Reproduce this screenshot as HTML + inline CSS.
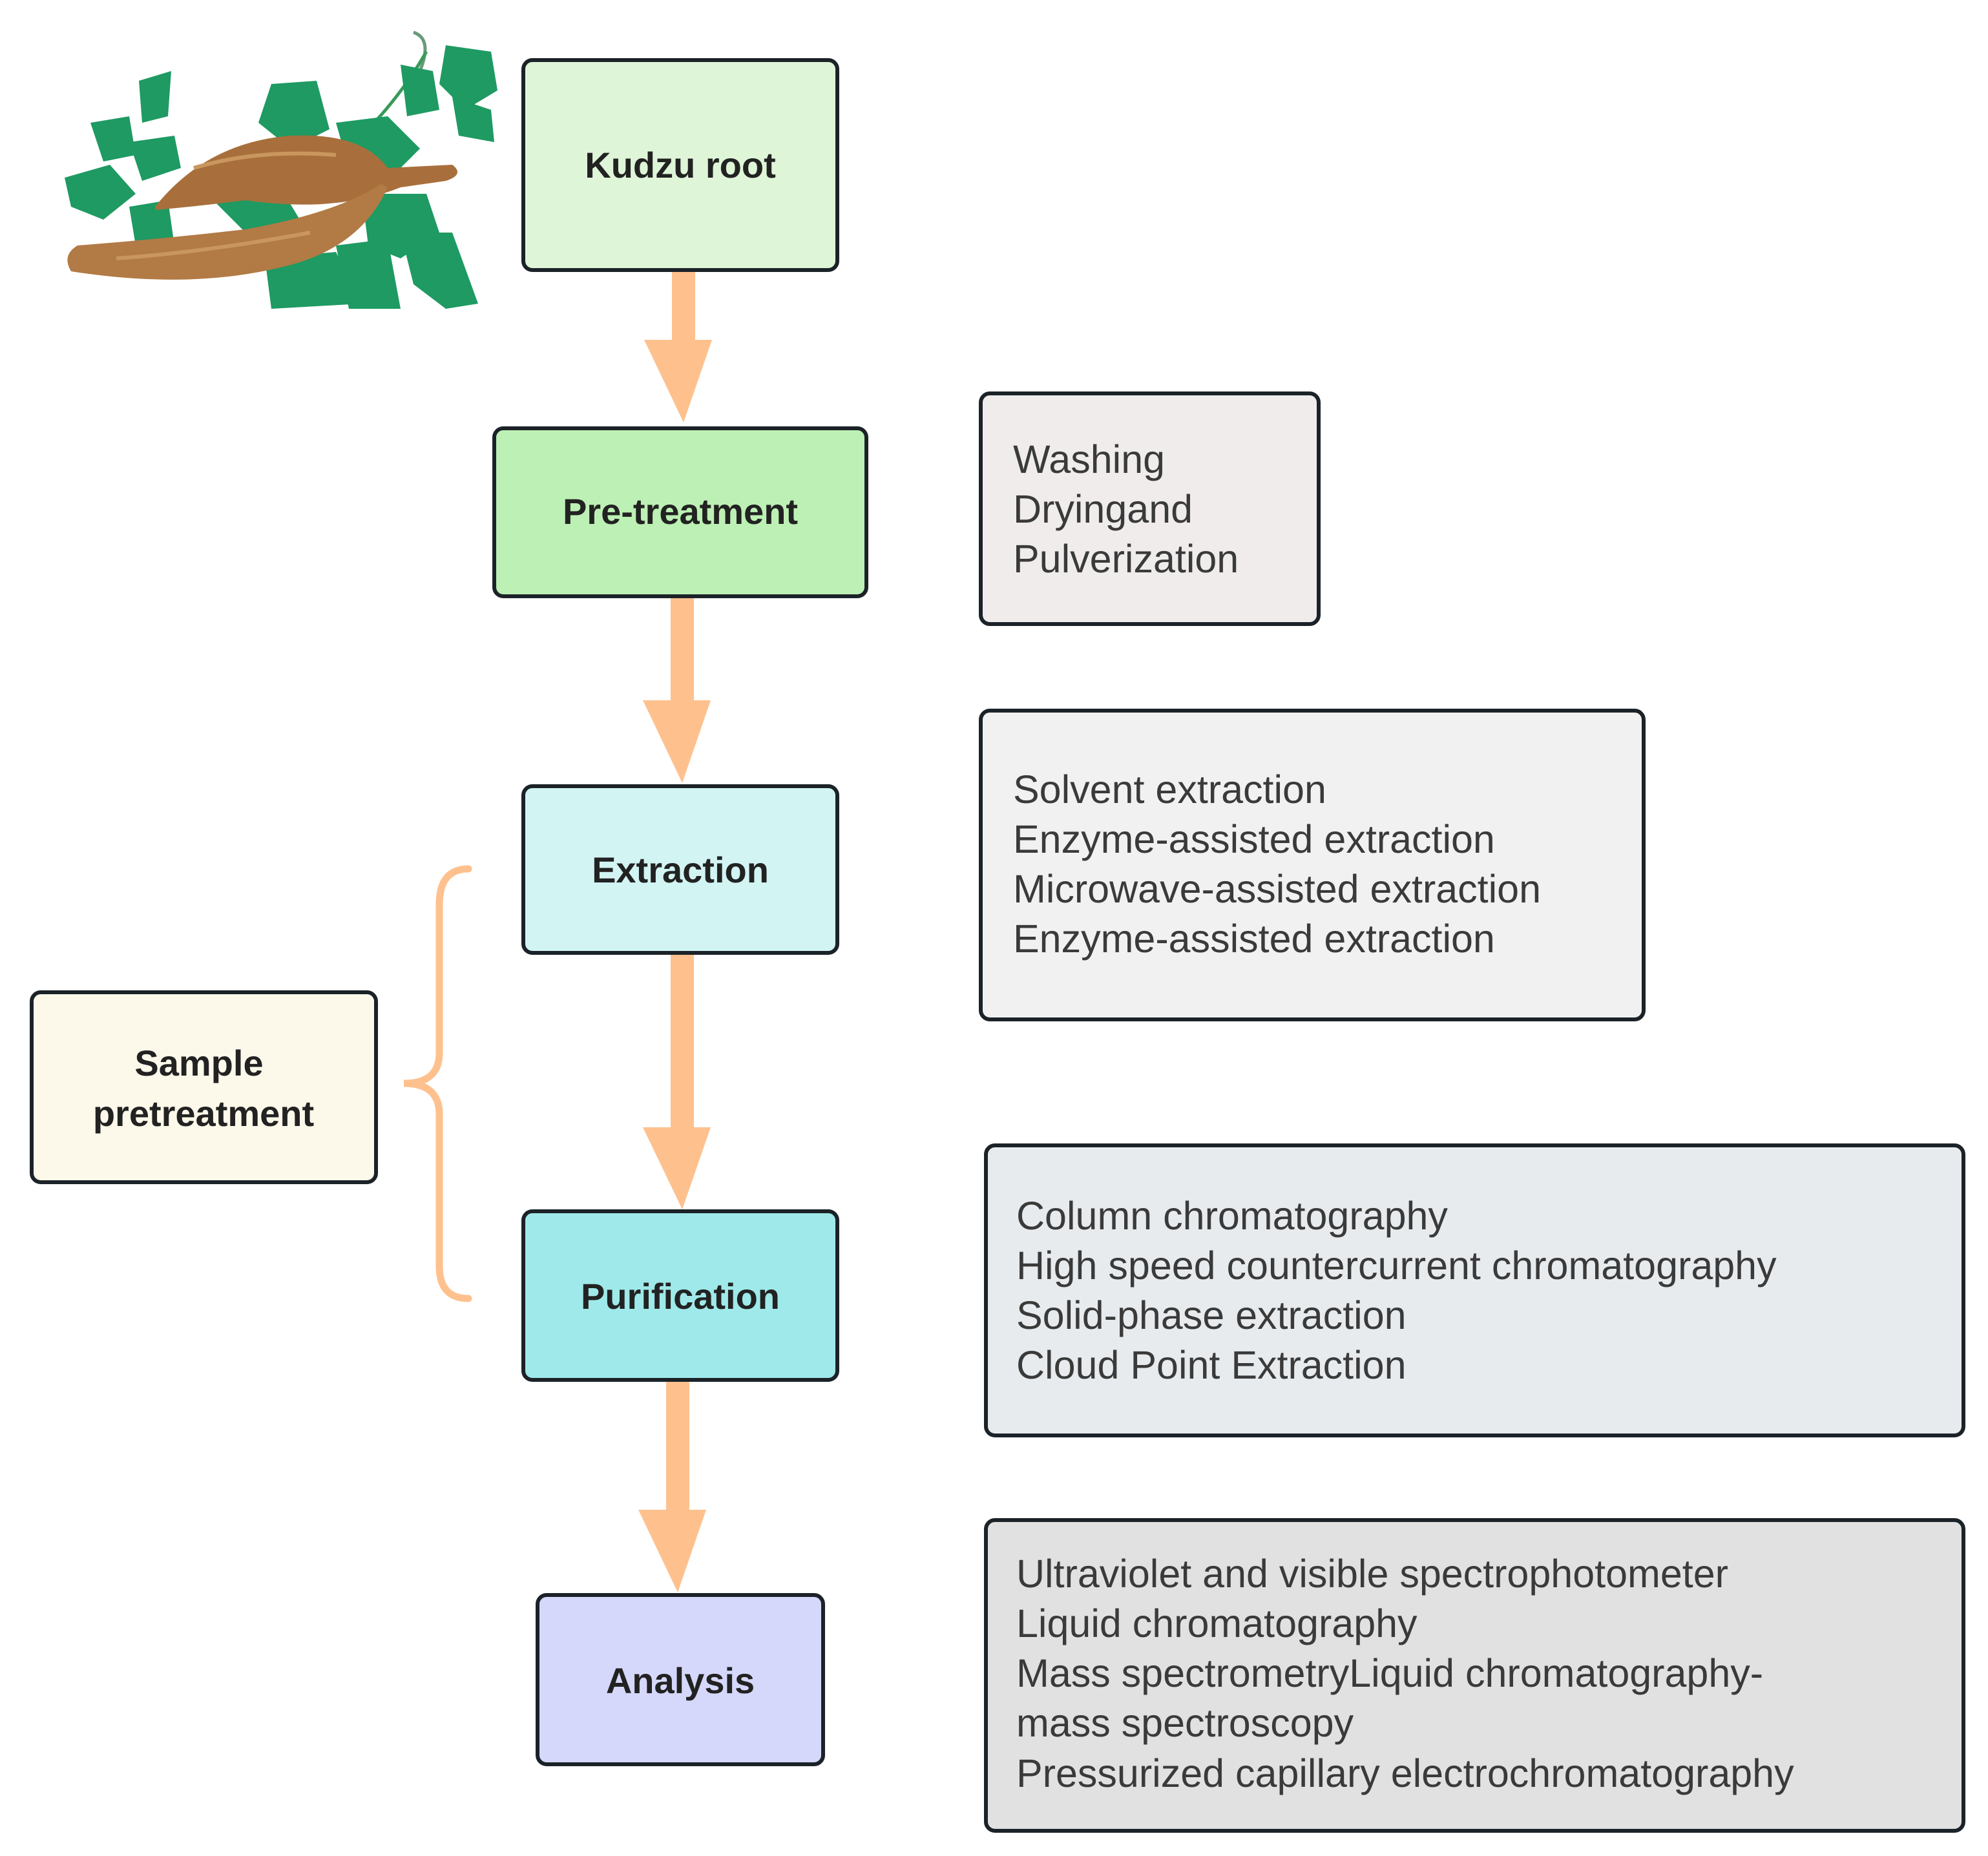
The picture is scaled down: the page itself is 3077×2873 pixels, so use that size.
<!DOCTYPE html>
<html><head><meta charset="utf-8"><style>
html,body{margin:0;padding:0;background:#fff;}
svg{display:block;}
.b{font-family:"Liberation Sans",sans-serif;font-weight:bold;font-size:56px;fill:#222;}
.n{font-family:"Liberation Sans",sans-serif;font-size:61px;fill:#3a3a3a;}
.box{stroke:#1b2228;stroke-width:6;}
</style></head><body>
<svg width="3077" height="2873" viewBox="0 0 3077 2873" xmlns="http://www.w3.org/2000/svg">
<!-- plant illustration -->
<g>
<path d="M640 50 Q670 60 650 110" stroke="#6a9a7a" stroke-width="5" fill="none"/>
<path d="M560 210 Q620 150 660 80" stroke="#3a9a5a" stroke-width="5" fill="none"/>
<g fill="#1e9a62">
<path d="M690 70 L760 80 L770 140 L720 170 L680 130 Z"/>
<path d="M700 150 L760 170 L765 220 L710 210 Z"/>
<path d="M620 100 L670 110 L680 170 L630 180 Z"/>
<path d="M420 130 L490 125 L510 200 L450 230 L400 190 Z"/>
<path d="M215 125 L265 110 L260 180 L220 190 Z"/>
<path d="M140 190 L200 180 L210 240 L160 250 Z"/>
<path d="M200 220 L270 210 L280 260 L220 280 Z"/>
<path d="M100 275 L170 255 L210 300 L160 340 L110 320 Z"/>
<path d="M200 320 L260 310 L270 380 L210 380 Z"/>
<path d="M520 190 L600 180 L650 230 L600 280 L540 260 Z"/>
<path d="M330 310 L440 300 L470 350 L380 360 Z"/>
<path d="M560 300 L660 300 L680 360 L620 400 L570 380 Z"/>
<path d="M620 360 L700 360 L740 470 L690 478 L640 440 Z"/>
<path d="M410 400 L520 390 L560 470 L420 478 Z"/>
<path d="M520 380 L600 370 L620 478 L540 478 Z"/>
</g>
<path d="M240 320 Q320 220 450 210 Q560 205 600 260 L700 255 Q720 270 690 280 L620 290 Q520 330 380 310 Q300 320 240 325 Z" fill="#a86f3c"/>
<path d="M600 290 Q560 380 450 410 Q300 450 110 420 Q95 395 120 380 Q250 370 380 355 Q520 330 590 285 Z" fill="#b27a45"/>
<path d="M300 260 Q400 230 520 240" stroke="#c9965e" stroke-width="6" fill="none"/>
<path d="M180 400 Q320 390 480 360" stroke="#c9965e" stroke-width="6" fill="none"/>
</g>

<!-- arrows -->
<g fill="#fec18e">
<rect x="1040" y="416" width="36" height="115"/>
<polygon points="997,526 1102,526 1058,654"/>
<rect x="1038" y="921" width="36" height="168"/>
<polygon points="995,1084 1100,1084 1056,1212"/>
<rect x="1038" y="1473" width="36" height="277"/>
<polygon points="995,1745 1100,1745 1056,1872"/>
<rect x="1031" y="2134" width="36" height="208"/>
<polygon points="988,2337 1093,2337 1049,2465"/>
</g>
<!-- brace -->
<path d="M725 1345 Q680 1345 680 1400 L680 1630 Q680 1677 625 1677 Q680 1677 680 1725 L680 1960 Q680 2010 725 2010" stroke="#fec18e" stroke-width="11" fill="none" stroke-linecap="round"/>

<!-- main boxes -->
<rect class="box" x="810" y="93" width="486" height="325" rx="14" fill="#dff5d8"/>
<text class="b" x="1053" y="275" text-anchor="middle">Kudzu root</text>
<rect class="box" x="765" y="663" width="576" height="260" rx="14" fill="#bdf0b4"/>
<text class="b" x="1053" y="811" text-anchor="middle">Pre-treatment</text>
<rect class="box" x="810" y="1217" width="486" height="258" rx="14" fill="#d2f4f3"/>
<text class="b" x="1053" y="1366" text-anchor="middle">Extraction</text>
<rect class="box" x="810" y="1875" width="486" height="261" rx="14" fill="#9fe9ea"/>
<text class="b" x="1053" y="2026" text-anchor="middle">Purification</text>
<rect class="box" x="832" y="2469" width="442" height="262" rx="14" fill="#d5d8fa"/>
<text class="b" x="1053" y="2621" text-anchor="middle">Analysis</text>
<rect class="box" x="49" y="1536" width="533" height="294" rx="14" fill="#fcf8ea"/>
<text class="b" x="308" y="1665" text-anchor="middle">Sample</text>
<text class="b" x="315" y="1743" text-anchor="middle">pretreatment</text>

<!-- detail boxes -->
<rect class="box" x="1518" y="609" width="523" height="357" rx="14" fill="#f0ecec"/>
<g class="n"><text x="1568" y="732">Washing</text><text x="1568" y="809">Dryingand</text><text x="1568" y="886">Pulverization</text></g>

<rect class="box" x="1518" y="1100" width="1026" height="478" rx="14" fill="#f1f1f1"/>
<g class="n"><text x="1568" y="1243">Solvent extraction</text><text x="1568" y="1320">Enzyme-assisted extraction</text><text x="1568" y="1397">Microwave-assisted extraction</text><text x="1568" y="1474">Enzyme-assisted extraction</text></g>

<rect class="box" x="1526" y="1773" width="1513" height="449" rx="14" fill="#e7ebee"/>
<g class="n"><text x="1573" y="1903">Column chromatography</text><text x="1573" y="1980">High speed countercurrent chromatography</text><text x="1573" y="2057">Solid-phase extraction</text><text x="1573" y="2134">Cloud Point Extraction</text></g>

<rect class="box" x="1526" y="2353" width="1513" height="481" rx="14" fill="#e1e1e1"/>
<g class="n"><text x="1573" y="2457">Ultraviolet and visible spectrophotometer</text><text x="1573" y="2534">Liquid chromatography</text><text x="1573" y="2611">Mass spectrometryLiquid chromatography-</text><text x="1573" y="2688">mass spectroscopy</text><text x="1573" y="2766">Pressurized capillary electrochromatography</text></g>
</svg>
</body></html>
